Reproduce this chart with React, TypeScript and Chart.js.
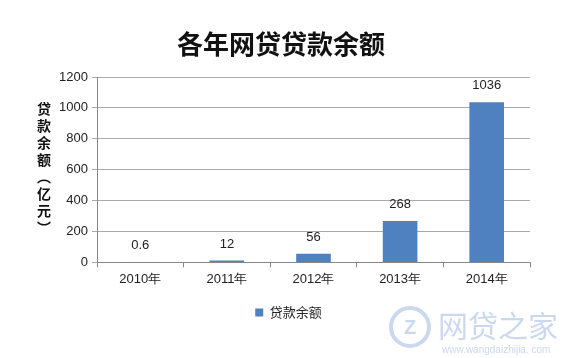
import React, { useEffect, useRef } from "react";
import { Chart, registerables } from "chart.js";

Chart.register(...registerables);

const categories = ["2010年", "2011年", "2012年", "2013年", "2014年"];
const loanBalance = [0.6, 12, 56, 268, 1036];
const valueLabels = ["0.6", "12", "56", "268", "1036"];
const seriesName = "贷款余额";
const chartTitle = "各年网贷贷款余额";
const yTitleChars = ["贷", "款", "余", "额", "︵", "亿", "元", "︶"];

const overlayPlugin = {
  id: "overlay",
  afterDraw(chart: any) {
    const ctx = chart.ctx;
    ctx.save();
    // title
    ctx.fillStyle = "#111";
    ctx.font = "bold 26px 'Noto Sans CJK SC'";
    ctx.textAlign = "center";
    ctx.textBaseline = "middle";
    ctx.fillText(chartTitle, 281, 44);
    // y title stacked
    ctx.font = "bold 14px 'Noto Sans CJK SC'";
    yTitleChars.forEach((c, i) => {
      ctx.fillText(c, 44, 109 + i * 17);
    });
    // data labels
    const meta = chart.getDatasetMeta(0);
    ctx.font = "13px 'Liberation Sans'";
    ctx.fillStyle = "#222";
    ctx.textBaseline = "bottom";
    meta.data.forEach((bar: any, i: number) => {
      ctx.fillText(valueLabels[i], bar.x, bar.y - 10);
    });
    // watermark
    ctx.globalAlpha = 0.45;
    ctx.strokeStyle = "#8fa8d8";
    ctx.fillStyle = "#8fa8d8";
    ctx.lineWidth = 4;
    ctx.beginPath();
    ctx.arc(410, 327, 19, 0, Math.PI * 2);
    ctx.stroke();
    ctx.font = "bold 20px 'Liberation Sans'";
    ctx.textBaseline = "middle";
    ctx.fillText("Z", 410, 328);
    ctx.font = "30px 'Noto Sans CJK SC'";
    ctx.textAlign = "left";
    ctx.fillText("网贷之家", 438, 326);
    ctx.font = "10px 'Liberation Sans'";
    ctx.fillText("www.wangdaizhijia. com", 442, 350);
    ctx.restore();
  },
};

export default function App() {
  const ref = useRef<HTMLCanvasElement>(null);
  useEffect(() => {
    document.body.style.margin = "0";
    const chart = new Chart(ref.current!, {
      type: "bar",
      data: {
        labels: categories,
        datasets: [
          {
            label: seriesName,
            data: loanBalance,
            backgroundColor: "#4f80bf",
            barPercentage: 0.4,
            categoryPercentage: 1,
          },
        ],
      },
      options: {
        responsive: false,
        animation: false,
        layout: { padding: { top: 77, left: 47, right: 50, bottom: 29 } },
        plugins: {
          legend: {
            position: "bottom",
            labels: {
              boxWidth: 8,
              boxHeight: 8,
              color: "#222",
              font: { family: "'Noto Sans CJK SC'", size: 13 },
              padding: 15,
            },
          },
          tooltip: { enabled: false },
        },
        scales: {
          x: {
            grid: {
              drawOnChartArea: false,
              drawTicks: true,
              tickLength: 5,
              color: "#888",
            },
            border: { color: "#888" },
            ticks: {
              color: "#222",
              font: { family: "'Liberation Sans'", size: 13 },
              padding: 4,
            },
          },
          y: {
            min: 0,
            max: 1200,
            grid: {
              drawOnChartArea: true,
              drawTicks: true,
              tickLength: 5,
              color: "#aaa",
            },
            border: { color: "#888" },
            ticks: {
              stepSize: 200,
              color: "#222",
              font: { family: "'Liberation Sans'", size: 13 },
              padding: 4,
              callback: (v: any) => String(v),
            },
            afterFit(scale: any) {
              scale.width = 50;
            },
          },
        },
      },
      plugins: [overlayPlugin],
    });
    return () => chart.destroy();
  }, []);
  return (
    <div style={{ width: 580, height: 358 }}>
      <canvas ref={ref} width={580} height={358} />
    </div>
  );
}
